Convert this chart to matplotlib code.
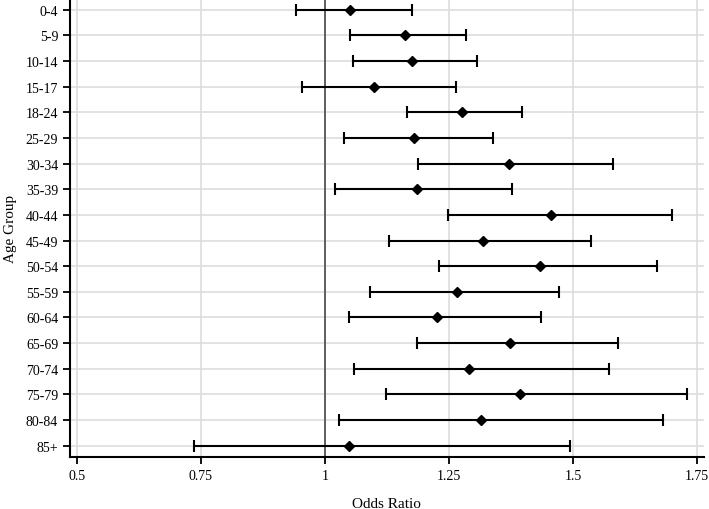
import numpy as np
import matplotlib
matplotlib.use('Agg')
import matplotlib.pyplot as plt

AGE_GROUPS = ['0-4', '5-9', '10-14', '15-17', '18-24', '25-29', '30-34', '35-39',
              '40-44', '45-49', '50-54', '55-59', '60-64', '65-69', '70-74',
              '75-79', '80-84', '85+']
ODDS = [1.050, 1.161, 1.175, 1.098, 1.276, 1.179, 1.371, 1.186, 1.456,
        1.318, 1.433, 1.267, 1.227, 1.374, 1.290, 1.394, 1.315, 1.048]
CI_LOW = [0.942, 1.050, 1.056, 0.953, 1.165, 1.038, 1.188, 1.020, 1.248,
          1.130, 1.230, 1.091, 1.048, 1.186, 1.058, 1.123, 1.028, 0.737]
CI_HIGH = [1.176, 1.284, 1.307, 1.265, 1.397, 1.339, 1.581, 1.377, 1.700,
           1.537, 1.669, 1.472, 1.435, 1.591, 1.572, 1.730, 1.682, 1.494]
X_TICKS = [0.5, 0.75, 1, 1.25, 1.5, 1.75]
X_TICK_LABELS = ['0.5', '0.75', '1', '1.25', '1.5', '1.75']

plt.rcParams['font.family'] = ['Liberation Serif', 'DejaVu Serif']


def main():
    odds = np.array(ODDS)
    low = np.array(CI_LOW)
    high = np.array(CI_HIGH)
    ypos = np.arange(len(AGE_GROUPS))

    fig = plt.figure(figsize=(7.09, 5.10), dpi=100)
    ax = fig.add_axes([0.0987, 0.102, 0.894, 0.898])

    ax.errorbar(odds, ypos, xerr=[odds - low, high - odds], fmt='D',
                color='black', ecolor='black', elinewidth=1.5, capsize=4.6,
                capthick=1.5, markersize=5.2, zorder=3)
    ax.axvline(1, color='#555555', linewidth=1.3, zorder=2)

    ax.set_xlim(0.486, 1.764)
    ax.set_ylim(17.44, -0.42)
    ax.set_xticks(X_TICKS)
    ax.set_xticklabels(X_TICK_LABELS)
    ax.set_yticks(ypos)
    ax.set_yticklabels(AGE_GROUPS)
    ax.grid(True, color='#dddddd', linewidth=1.2, zorder=0)
    ax.set_axisbelow(True)

    for side in ['top', 'right']:
        ax.spines[side].set_visible(False)
    for side in ['left', 'bottom']:
        ax.spines[side].set_linewidth(1.5)
    ax.tick_params(axis='both', width=1.3, length=5, labelsize=10)

    ax.set_xlabel('Odds Ratio', fontsize=11, labelpad=11)
    ax.set_ylabel('Age Group', fontsize=11, labelpad=6)

    fig.savefig('out.png', dpi=100)


if __name__ == '__main__':
    main()
